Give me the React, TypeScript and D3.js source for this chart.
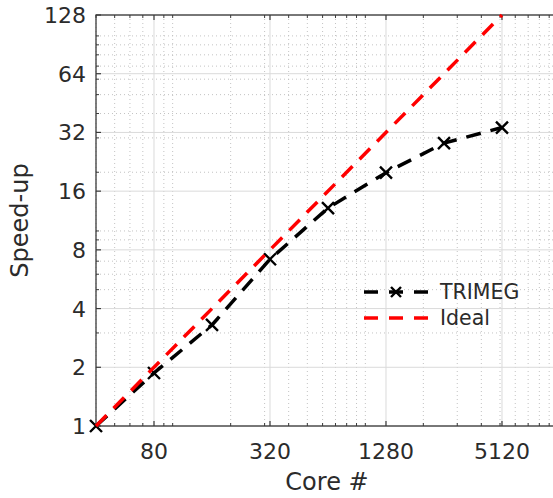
import React from "react";
import * as d3 from "d3";

const cores = [40, 80, 160, 320, 640, 1280, 2560, 5120];
const trimegSpeedup = [1, 1.87, 3.3, 7.16, 13.1, 19.9, 28.2, 33.9];
const idealCores = [40, 5120];
const idealSpeedup = [1, 128];
const xTickValues = [80, 320, 1280, 5120];
const yTickValues = [1, 2, 4, 8, 16, 32, 64, 128];
const xDomain = [40, 10000];
const yDomain = [1, 128];

const W = 553;
const H = 498;
const left = 96;
const right = 558;
const top = 15;
const bottom = 426;
const font = "DejaVu Sans, sans-serif";
const axisColor = "#3a3a3a";
const textColor = "#2b2b2b";

export default function App() {
  const x = d3.scaleLog().base(2).domain(xDomain).range([left, right]);
  const y = d3.scaleLog().base(2).domain(yDomain).range([bottom, top]);
  const x10 = d3.scaleLog().base(10).domain(xDomain);
  const y10 = d3.scaleLog().base(10).domain(yDomain);
  const xMinor = x10.ticks().filter((v) => !xTickValues.includes(v));
  const yMinor = y10.ticks().filter((v) => !yTickValues.includes(v));

  const line = d3
    .line<[number, number]>()
    .x((d) => x(d[0]))
    .y((d) => y(d[1]));
  const trimegPts: [number, number][] = cores.map((c, i) => [c, trimegSpeedup[i]]);
  const idealPts: [number, number][] = idealCores.map((c, i) => [c, idealSpeedup[i]]);

  const cross = (cx: number, cy: number, s: number, key: string) => (
    <path
      key={key}
      d={`M${cx - s},${cy - s}L${cx + s},${cy + s}M${cx - s},${cy + s}L${cx + s},${cy - s}`}
      stroke="#000"
      strokeWidth={2.4}
      fill="none"
    />
  );

  const legX1 = 364;
  const legX2 = 428;
  const legY1 = 292;
  const legY2 = 318;

  return (
    <svg width={W} height={H} style={{ display: "block", position: "absolute", left: 0, top: 0 }}>
      <rect x={0} y={0} width={W} height={H} fill="#fff" />
      {/* minor grid */}
      {xMinor.map((v) => (
        <line key={"xm" + v} x1={x(v)} x2={x(v)} y1={top} y2={bottom} stroke="#bcbcbc" strokeWidth={0.9} strokeDasharray="1 3" />
      ))}
      {yMinor.map((v) => (
        <line key={"ym" + v} x1={left} x2={right} y1={y(v)} y2={y(v)} stroke="#bcbcbc" strokeWidth={0.9} strokeDasharray="1 3" />
      ))}
      {/* major grid */}
      {xTickValues.map((v) => (
        <line key={"xg" + v} x1={x(v)} x2={x(v)} y1={top} y2={bottom} stroke="#dadada" strokeWidth={1} />
      ))}
      {yTickValues.map((v) => (
        <line key={"yg" + v} x1={left} x2={right} y1={y(v)} y2={y(v)} stroke="#dadada" strokeWidth={1} />
      ))}
      {/* minor ticks */}
      {xMinor.map((v) => (
        <g key={"xmt" + v}>
          <line x1={x(v)} x2={x(v)} y1={bottom} y2={bottom - 3} stroke={axisColor} strokeWidth={1} />
          <line x1={x(v)} x2={x(v)} y1={top} y2={top + 3} stroke={axisColor} strokeWidth={1} />
        </g>
      ))}
      {yMinor.map((v) => (
        <g key={"ymt" + v}>
          <line x1={left} x2={left + 3} y1={y(v)} y2={y(v)} stroke={axisColor} strokeWidth={1} />
          <line x1={right} x2={right - 3} y1={y(v)} y2={y(v)} stroke={axisColor} strokeWidth={1} />
        </g>
      ))}
      {/* major ticks */}
      {xTickValues.map((v) => (
        <g key={"xt" + v}>
          <line x1={x(v)} x2={x(v)} y1={bottom} y2={bottom - 5} stroke={axisColor} strokeWidth={1.2} />
          <line x1={x(v)} x2={x(v)} y1={top} y2={top + 5} stroke={axisColor} strokeWidth={1.2} />
          <text x={x(v)} y={459} textAnchor="middle" fontFamily={font} fontSize={22} fill={textColor}>
            {v}
          </text>
        </g>
      ))}
      {yTickValues.map((v) => (
        <g key={"yt" + v}>
          <line x1={left} x2={left + 5} y1={y(v)} y2={y(v)} stroke={axisColor} strokeWidth={1.2} />
          <line x1={right} x2={right - 5} y1={y(v)} y2={y(v)} stroke={axisColor} strokeWidth={1.2} />
          <text x={86} y={y(v) + 8} textAnchor="end" fontFamily={font} fontSize={22} fill={textColor}>
            {v}
          </text>
        </g>
      ))}
      {/* frame */}
      <rect x={left} y={top} width={right - left} height={bottom - top} fill="none" stroke={axisColor} strokeWidth={1.3} />
      {/* series */}
      <path d={line(trimegPts) || ""} fill="none" stroke="#000" strokeWidth={3.5} strokeDasharray="15 10" />
      {trimegPts.map((p, i) => cross(x(p[0]), y(p[1]), 6, "m" + i))}
      <path d={line(idealPts) || ""} fill="none" stroke="#ff0000" strokeWidth={3.5} strokeDasharray="15 10" />
      {/* legend */}
      <line x1={legX1} x2={legX2} y1={legY1} y2={legY1} stroke="#000" strokeWidth={3.5} strokeDasharray="14 11" />
      {cross((legX1 + legX2) / 2, legY1, 5, "leg")}
      <text x={440} y={legY1 + 7} fontFamily={font} fontSize={20.5} fill={textColor}>
        TRIMEG
      </text>
      <line x1={legX1} x2={legX2} y1={legY2} y2={legY2} stroke="#ff0000" strokeWidth={3.5} strokeDasharray="14 11" />
      <text x={440} y={legY2 + 7} fontFamily={font} fontSize={20.5} fill={textColor}>
        Ideal
      </text>
      {/* axis labels */}
      <text x={(left + right) / 2} y={490} textAnchor="middle" fontFamily={font} fontSize={24} fill={textColor}>
        Core #
      </text>
      <text
        transform={`translate(28,${(top + bottom) / 2}) rotate(-90)`}
        textAnchor="middle"
        fontFamily={font}
        fontSize={24}
        fill={textColor}
      >
        Speed-up
      </text>
    </svg>
  );
}
